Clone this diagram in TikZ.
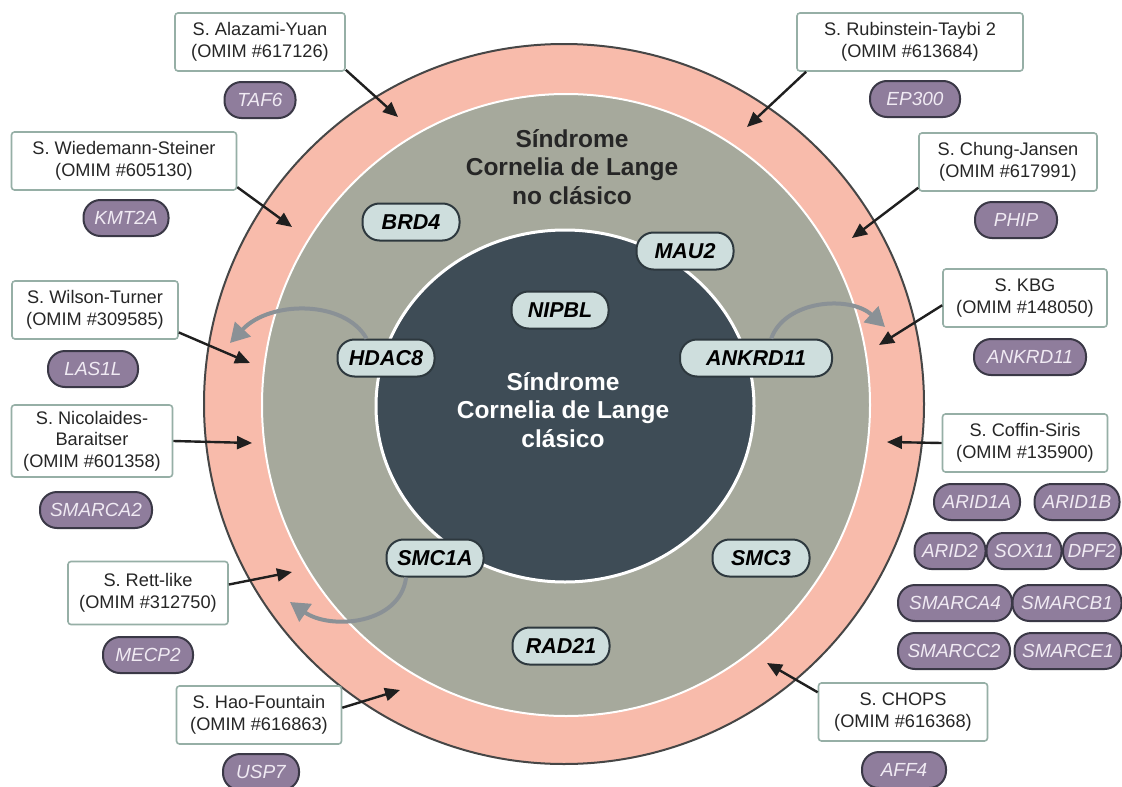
\documentclass[tikz,border=0pt]{standalone}
\usepackage{fontspec}
\setmainfont{Liberation Sans}
\usetikzlibrary{arrows.meta}
\definecolor{ringsalmon}{RGB}{248,187,171}
\definecolor{ringgray}{RGB}{166,169,156}
\definecolor{coredark}{RGB}{62,76,86}
\definecolor{genefill}{RGB}{206,222,221}
\definecolor{geneline}{RGB}{45,56,62}
\definecolor{pillfill}{RGB}{143,125,156}
\definecolor{pillline}{RGB}{58,56,70}
\definecolor{pilltext}{RGB}{240,234,243}
\definecolor{boxline}{RGB}{150,175,166}
\definecolor{arrowgray}{RGB}{138,145,150}
\definecolor{outerline}{RGB}{70,70,70}

\begin{document}
\begin{tikzpicture}[x=1pt,y=-1pt,
  syndrome/.style={draw=boxline,line width=1.6pt,fill=white,rounded corners=3pt,align=center,
    font=\fontsize{18.2}{21.5}\selectfont,text=black!85,inner xsep=2pt,inner ysep=6pt,minimum height=58pt},
  gene/.style={draw=geneline,line width=2pt,fill=genefill,rounded corners=17pt,
    font=\fontsize{21.5}{24}\selectfont\bfseries\itshape,minimum height=37pt,minimum width=97pt,inner xsep=4pt},
  pill/.style={draw=pillline,line width=2pt,fill=pillfill,rounded corners=17pt,text=pilltext,
    font=\fontsize{19}{21}\selectfont\itshape,minimum height=36pt,inner xsep=3pt},
  link/.style={-{Triangle[length=15pt,width=13pt]},line width=2.4pt,draw=black!88},
  relocate/.style={-{Triangle[length=19pt,width=21pt]},line width=4pt,draw=arrowgray},
  title/.style={font=\fontsize{24.5}{28.5}\selectfont\bfseries,align=center}]

\useasboundingbox (0,0) rectangle (1122,787);
\fill[white] (0,0) rectangle (1122,787);
\draw[fill=ringsalmon,draw=outerline,line width=2pt] (564,404) circle[radius=360];
\draw[fill=ringgray,draw=white,line width=2pt] (566,405) ellipse[x radius=304,y radius=311];
\draw[fill=coredark,draw=white,line width=3pt] (565,406) ellipse[x radius=189,y radius=176];

\node[title,text=black!85] (atypical) at (572,167) {Síndrome\\Cornelia de Lange\\no clásico};
\node[title,text=white] (typical) at (563,410) {Síndrome\\Cornelia de Lange\\clásico};

\node[gene] (brd4) at (411,222) {BRD4};
\node[gene] (mau2) at (685,251) {MAU2};
\node[gene] (nipbl) at (560,310) {NIPBL};
\node[gene] (hdac8) at (386,358) {HDAC8};
\node[gene,minimum width=152pt] (ankrd11) at (756,358) {ANKRD11};
\node[gene] (smc1a) at (435,558) {SMC1A};
\node[gene] (smc3) at (761,558) {SMC3};
\node[gene] (rad21) at (561,646) {RAD21};

\node[syndrome,minimum width=170pt] (alazami) at (260,42) {S. Alazami-Yuan\\(OMIM \#617126)};
\node[syndrome,minimum width=225pt] (wiedemann) at (124,161) {S. Wiedemann-Steiner\\(OMIM \#605130)};
\node[syndrome,minimum width=226pt] (rubinstein) at (910,42) {S. Rubinstein-Taybi 2\\(OMIM \#613684)};
\node[syndrome,minimum width=178pt] (chung) at (1008,162) {S. Chung-Jansen\\(OMIM \#617991)};
\node[syndrome,minimum width=166pt] (wilson) at (95,310) {S. Wilson-Turner\\(OMIM \#309585)};
\node[syndrome,minimum width=161pt] (nicolaides) at (92,441) {S. Nicolaides-\\Baraitser\\(OMIM \#601358)};
\node[syndrome,minimum width=164pt] (kbg) at (1025,298) {S. KBG\\(OMIM \#148050)};
\node[syndrome,minimum width=165pt] (coffin) at (1025,443) {S. Coffin-Siris\\(OMIM \#135900)};
\node[syndrome,minimum width=160pt,minimum height=63pt] (rett) at (148,593) {S. Rett-like\\(OMIM \#312750)};
\node[syndrome,minimum width=165pt] (hao) at (259,715) {S. Hao-Fountain\\(OMIM \#616863)};
\node[syndrome,minimum width=169pt] (chops) at (903,712) {S. CHOPS\\(OMIM \#616368)};

\node[pill,minimum width=71pt] (taf6) at (260,100) {TAF6};
\node[pill,minimum width=85pt] (kmt2a) at (126,218) {KMT2A};
\node[pill,minimum width=90pt] (ep300) at (915,99) {EP300};
\node[pill,minimum width=82pt] (phip) at (1016,220) {PHIP};
\node[pill,minimum width=90pt] (las1l) at (93,369) {LAS1L};
\node[pill,minimum width=112pt] (smarca2) at (96,510) {SMARCA2};
\node[pill,minimum width=112pt] (ankrd11b) at (1030,357) {ANKRD11};
\node[pill,minimum width=86pt] (arid1a) at (977,502) {ARID1A};
\node[pill,minimum width=85pt] (arid1b) at (1077,502) {ARID1B};
\node[pill,minimum width=71pt] (arid2) at (950,551) {ARID2};
\node[pill,minimum width=75pt] (sox11) at (1024,551) {SOX11};
\node[pill,minimum width=58pt] (dpf2) at (1092,551) {DPF2};
\node[pill,minimum width=114pt] (smarca4) at (955,603) {SMARCA4};
\node[pill,minimum width=109pt] (smarcb1) at (1067,603) {SMARCB1};
\node[pill,minimum width=112pt] (smarcc2) at (954,651) {SMARCC2};
\node[pill,minimum width=107pt] (smarce1) at (1068,651) {SMARCE1};
\node[pill,minimum width=84pt] (aff4) at (904,770) {AFF4};
\node[pill,minimum width=90pt] (mecp2) at (148,655) {MECP2};
\node[pill,minimum width=76pt] (usp7) at (261,772) {USP7};

\coordinate (tAY) at (398,117);
\coordinate (tWS) at (292,227);
\coordinate (tRT) at (747,127);
\coordinate (tCJ) at (852,238);
\coordinate (tWT) at (250,363);
\coordinate (tNB) at (252,443);
\coordinate (tKB) at (879,345);
\coordinate (tCS) at (887,442);
\coordinate (tCH) at (767,663);
\coordinate (tRL) at (292,572);
\coordinate (tHF) at (400,690);
\coordinate (tHD) at (230,343);
\coordinate (tAN) at (885,327);
\coordinate (tSM) at (290,602);

\draw[link] (alazami.-18) -- (tAY);
\draw[link] (wiedemann.-13) -- (tWS);
\draw[link] (rubinstein.-164) -- (tRT);
\draw[link] (chung.-164) -- (tCJ);
\draw[link] (wilson.-15) -- (tWT);
\draw[link] (nicolaides.east) -- (tNB);
\draw[link] (kbg.-175) -- (tKB);
\draw[link] (coffin.west) -- (tCS);
\draw[link] (chops.167) -- (tCH);
\draw[link] (rett.6) -- (tRL);
\draw[link] (hao.5) -- (tHF);

\draw[relocate] (hdac8.135) .. controls (345,300) and (270,300) .. (tHD);
\draw[relocate] (ankrd11.52) .. controls (785,300) and (850,295) .. (tAN);
\draw[relocate] (smc1a.-146) .. controls (400,625) and (330,630) .. (tSM);
\end{tikzpicture}
\end{document}
